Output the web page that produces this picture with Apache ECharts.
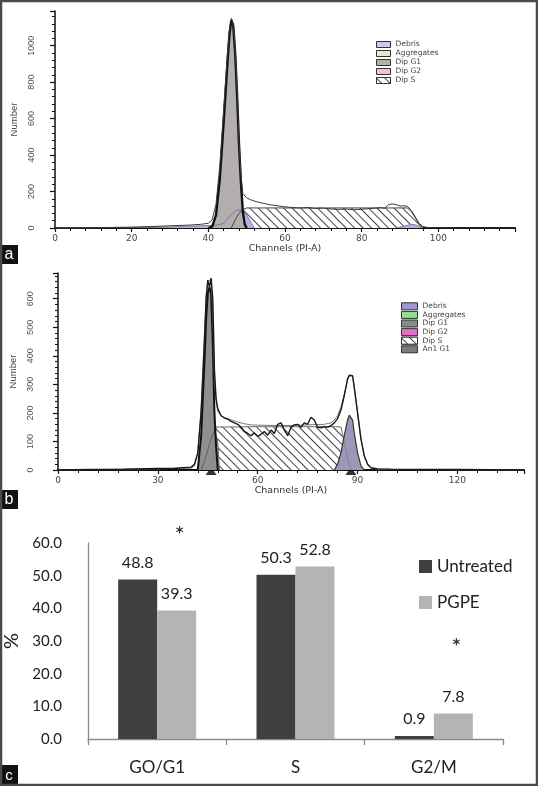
<!DOCTYPE html>
<html><head><meta charset="utf-8">
<script src="https://cdn.jsdelivr.net/npm/echarts@6/dist/echarts.min.js"></script>
<style>html,body{margin:0;padding:0;background:#fff}#c{width:538px;height:786px}</style>
</head><body><div id="c"></div>
<script>
// ---------- Panel a (channel, count) ----------
const rawA = [[0,0],[5,1],[10,2],[15,3],[20,5],[25,8],[30,12],[35,16],[38,20],[40,26],[41,45],[42,130],[43,340],[44,650],[45,960],[45.5,1090],[46,1150],[46.5,1120],[47,990],[47.5,760],[48,480],[48.5,290],[49,190],[50,165],[51,155],[52,148],[53,142],[54,137],[55,132],[56,128],[58,122],[60,116],[62,112],[64,110],[66,112],[68,107],[70,109],[72,104],[74,102],[76,104],[78,100],[80,103],[82,106],[84,110],[85,112],[86,108],[87,128],[88,132],[89,128],[90,120],[91,122],[92,118],[93,95],[94,60],[95,25],[96,8],[97,3],[100,1],[105,0],[120,0]];
const g1A = [[40,0],[41,8],[42,70],[43,270],[44,580],[45,910],[45.5,1060],[46,1140],[46.5,1110],[47,960],[47.5,730],[48,460],[48.5,250],[49,90],[49.5,20],[50,0]];
const sA = [[46,0],[47,45],[48,80],[49,100],[50,110],[60,110],[70,110],[80,110],[90,110],[92,110],[93,88],[94,55],[95,20],[96,0]];
const debA = [[0,0],[20,2],[30,6],[38,12],[42,15],[44,25],[45,50],[46,75],[47,92],[48,100],[49,95],[50,72],[51,35],[52,0]];
const g2A = [[89,0],[91,10],[93,20],[94,18],[95,8],[96,0]];
const peaksA = [[46,0]];

// ---------- Panel b (channel, count) ----------
const rawB = [[0,0],[10,2],[20,3],[30,5],[35,6],[40,10],[41,20],[42,60],[43,200],[44,450],[44.5,600],[45,665],[45.5,640],[46,672],[46.5,600],[47,350],[47.5,250],[48,215],[49,190],[50,182],[51,178],[52,170],[53,165],[54,160],[55,150],[56,135],[57,128],[58,120],[59,130],[60,118],[61,125],[62,135],[63,122],[64,140],[65,128],[66,160],[67,165],[68,140],[69,120],[70,150],[71,158],[72,160],[73,150],[74,165],[75,160],[76,185],[77,175],[78,150],[79,148],[80,152],[81,150],[82,155],[83,165],[84,180],[85,210],[86,260],[87,320],[87.5,332],[88,325],[88.5,330],[89,290],[90,200],[91,110],[92,50],[93,20],[94,8],[96,4],[100,3],[110,2],[120,2],[130,1],[140,0]];
const fitB = [[0,0],[40,6],[41,15],[42,60],[43,220],[44,480],[44.5,610],[45,660],[45.5,655],[46,668],[46.5,560],[47,330],[47.5,240],[48,205],[49,190],[50,184],[52,176],[54,168],[56,162],[58,158],[60,157],[65,156],[70,156],[75,158],[80,160],[82,165],[83,175],[84,190],[85,220],[86,265],[87,315],[87.5,330],[88,326],[88.5,330],[89,290],[90,200],[91,110],[92,50],[93,20],[94,8],[96,3],[100,2],[140,0]];
const g1B = [[42,0],[43,120],[44,380],[44.5,530],[45,620],[45.5,640],[46,620],[46.5,450],[47,200],[47.5,80],[48,0]];
const sB = [[46,0],[47,100],[47.5,150],[48,152],[60,152],[70,152],[80,152],[84,152],[85,150],[86,100],[87,40],[88,0]];
const debB = [[43,0],[44,30],[45,70],[46,110],[47,140],[47.5,145],[48,100],[48.5,0]];
const g2B = [[83,0],[84,20],[85,60],[86,120],[87,175],[87.5,192],[88,190],[88.5,175],[89,130],[90,60],[91,15],[92,0]];
const peaksB = [[46,0],[88,0]];

// ---------- Panel c ----------
const phases = ['GO/G1','S','G2/M'];
const untreated = [48.8, 50.3, 0.9];
const pgpe = [39.3, 52.8, 7.8];
const legendA = ['Debris','Aggregates','Dip G1','Dip G2','Dip S'];
const legendB = ['Debris','Aggregates','Dip G1','Dip G2','Dip S','An1 G1'];

const hatch = {symbol:'rect', symbolSize:1, dashArrayX:[1,0], dashArrayY:[1,5], rotation:Math.PI/4, color:'#444', backgroundColor:'#fff'};
const HF = 'DejaVu Sans';
const CF = 'Lato';

function histX(grid, max, interval, gap){
  return {type:'value', gridIndex:grid, min:0, max:max, interval:interval,
    axisLine:{lineStyle:{color:'#111', width:2}},
    axisTick:{show:true, length:4, lineStyle:{color:'#111', width:1.2}},
    minorTick:{show:true, splitNumber:5, length:3, lineStyle:{color:'#111', width:1}},
    splitLine:{show:false},
    axisLabel:{fontSize:9, color:'#444', fontFamily:HF, margin:6, showMaxLabel:false},
    name:'Channels (PI-A)', nameLocation:'middle', nameGap:gap,
    nameTextStyle:{fontSize:9.5, color:'#333', fontFamily:HF}};
}
function histY(grid, max, interval, margin, gap){
  return {type:'value', gridIndex:grid, min:0, max:max, interval:interval,
    axisLine:{show:true, lineStyle:{color:'#111', width:1.5}},
    axisTick:{show:true, length:5, lineStyle:{color:'#111', width:1.2}},
    minorTick:{show:true, splitNumber:5, length:3, lineStyle:{color:'#111', width:1}},
    splitLine:{show:false},
    axisLabel:{rotate:90, fontSize:9, color:'#555', fontFamily:'Liberation Sans', margin:margin, showMaxLabel:false, formatter:v=>String(v)},
    name:'Number', nameLocation:'middle', nameRotate:90, nameGap:gap,
    nameTextStyle:{fontSize:9.5, color:'#444', fontFamily:'Liberation Sans'}};
}
function area(name, data, xi, fill, line, lw, extra){
  return Object.assign({type:'line', name:name, xAxisIndex:xi, yAxisIndex:xi, data:data,
    showSymbol:false, symbol:'none', smooth:false, silent:true,
    lineStyle:{color:line, width:lw}, itemStyle:{color:fill},
    areaStyle:{color:fill, opacity:1}}, extra||{});
}
function lineS(name, data, xi, color, lw){
  return {type:'line', name:name, xAxisIndex:xi, yAxisIndex:xi, data:data, showSymbol:false, symbol:'none',
    silent:true, lineStyle:{color:color, width:lw}, itemStyle:{color:color}};
}
function legendItems(names, colors){
  return names.map((n,i)=>({name:n, itemStyle:Object.assign({borderColor:'#333', borderWidth:1}, colors[i])}));
}

const chart = echarts.init(document.getElementById('c'), null, {renderer:'canvas'});
chart.setOption({
  animation:false,
  backgroundColor:'#fff',
  grid:[
    {left:55, right:23, top:11, bottom:558, containLabel:false, outerBoundsMode:'none'},
    {left:58, right:14, top:273, bottom:316, containLabel:false, outerBoundsMode:'none'},
    {left:88, right:35, top:543, bottom:47, containLabel:false, outerBoundsMode:'none'}
  ],
  xAxis:[
    histX(0, 120, 20, 16),
    histX(1, 140, 30, 13),
    {type:'category', gridIndex:2, data:phases,
     axisLine:{lineStyle:{color:'#8a8a8a', width:1.3}},
     axisTick:{show:true, length:6, alignWithLabel:false, lineStyle:{color:'#8a8a8a', width:1.3}},
     axisLabel:{fontSize:17, color:'#222', fontFamily:CF, margin:20}}
  ],
  yAxis:[
    histY(0, 1190, 200, 19, 32),
    histY(1, 690, 100, 23, 37),
    {type:'value', gridIndex:2, min:0, max:60, interval:10,
     axisLine:{show:true, lineStyle:{color:'#8a8a8a', width:1.3}},
     axisTick:{show:false}, splitLine:{show:false},
     axisLabel:{fontSize:15, color:'#222', fontFamily:CF, margin:26, formatter:v=>v.toFixed(1)},
     name:'%', nameLocation:'middle', nameRotate:90, nameGap:57,
     nameTextStyle:{fontSize:20, color:'#222', fontFamily:CF}}
  ],
  legend:[
    {selectedMode:false, orient:'vertical', left:371, top:35, icon:'rect', itemWidth:14, itemHeight:6, itemGap:0,
     textStyle:{fontSize:7.5, color:'#444', fontFamily:HF, lineHeight:9},
     data:legendItems(legendA, [{color:'#cfc8ec'},{color:'#d6f2c8'},{color:'#b3afaf'},{color:'#f2bde8'},{color:'#fff', decal:hatch}])},
    {selectedMode:false, orient:'vertical', left:396, top:297, icon:'rect', itemWidth:16, itemHeight:7, itemGap:0,
     textStyle:{fontSize:7.5, color:'#444', fontFamily:HF, lineHeight:8.6},
     data:legendItems(legendB, [{color:'#9e97d4'},{color:'#8fe08f'},{color:'#8a8a8a'},{color:'#e36fcb'},{color:'#fff', decal:hatch},{color:'#7c7c7c'}])},
    {selectedMode:false, orient:'vertical', left:414, top:553, icon:'rect', itemWidth:13, itemHeight:13, itemGap:19,
     textStyle:{fontSize:17, color:'#222', fontFamily:CF},
     data:['Untreated','PGPE']}
  ],
  series:[
    // panel a
    area('Dip S', sA, 0, '#fff', '#444', 1, {itemStyle:{color:'#fff', decal:hatch}}),
    area('Debris', debA, 0, '#b9b1e0', '#6c66a0', 0.8),
    area('Dip G2', g2A, 0, '#c9a8dc', '#6c66a0', 0.8),
    area('Dip G1', g1A, 0, '#b3afaf', '#111', 2.4),
    lineS('raw a', rawA, 0, '#3a3a3a', 1),
    {type:'line', name:'Aggregates', xAxisIndex:0, yAxisIndex:0, data:[], itemStyle:{color:'#d6f2c8'}},
    {type:'scatter', name:'peak a', xAxisIndex:0, yAxisIndex:0, data:peaksA, symbol:'triangle', symbolSize:[11,8], symbolOffset:[0,-6], itemStyle:{color:'#000'}, silent:true},
    // panel b
    area('Dip S', sB, 1, '#fff', '#8a8a8a', 1.2, {itemStyle:{color:'#fff', decal:hatch}}),
    area('Debris', debB, 1, '#9e97d4', '#555', 0.8),
    area('Dip G1', g1B, 1, '#8f8f8f', '#111', 2),
    area('Dip G2', g2B, 1, '#9d98ba', '#333', 1.2),
    lineS('fit b', fitB, 1, '#777', 1),
    lineS('raw b', rawB, 1, '#1a1a1a', 1.4),
    {type:'line', name:'An1 G1', xAxisIndex:1, yAxisIndex:1, data:[], itemStyle:{color:'#7c7c7c'}},
    {type:'scatter', name:'peak b', xAxisIndex:1, yAxisIndex:1, data:peaksB, symbol:'triangle', symbolSize:[11,8], symbolOffset:[0,1], itemStyle:{color:'#000'}, silent:true},
    // panel c
    {type:'bar', name:'Untreated', xAxisIndex:2, yAxisIndex:2, data:untreated, barWidth:39, barGap:'0%',
     itemStyle:{color:'#3f3f3f'},
     label:{show:true, position:'top', distance:9, fontSize:16, color:'#222', fontFamily:CF, formatter:p=>p.value.toFixed(1)}},
    {type:'bar', name:'PGPE', xAxisIndex:2, yAxisIndex:2, data:pgpe, barWidth:39, barGap:'0%',
     itemStyle:{color:'#b4b4b4'},
     label:{show:true, position:'top', distance:9, fontSize:16, color:'#222', fontFamily:CF, formatter:p=>p.value.toFixed(1)},
     markPoint:{symbol:'circle', symbolSize:1, itemStyle:{color:'rgba(0,0,0,0)'},
       label:{show:true, position:'inside', formatter:'*', fontSize:24, color:'#222', fontFamily:CF, offset:[3,0]},
       data:[{coord:['GO/G1', 60], label:{offset:[3,-8]}}, {coord:['G2/M', 28]}]}}
  ],
  graphic:[
    {type:'rect', shape:{x:1, y:1, width:536, height:784}, style:{fill:'none', stroke:'#4a4a4a', lineWidth:2.5}, z:100},
    {type:'group', left:0, top:245, z:101, children:[
      {type:'rect', shape:{x:0, y:0, width:18, height:19}, style:{fill:'#111'}},
      {type:'text', x:9, y:9.5, style:{text:'a', fill:'#fff', font:'16px "Liberation Sans"', align:'center', verticalAlign:'middle'}}]},
    {type:'group', left:0, top:490, z:101, children:[
      {type:'rect', shape:{x:0, y:0, width:18, height:19}, style:{fill:'#111'}},
      {type:'text', x:9, y:9.5, style:{text:'b', fill:'#fff', font:'16px "Liberation Sans"', align:'center', verticalAlign:'middle'}}]},
    {type:'group', left:0, top:765, z:101, children:[
      {type:'rect', shape:{x:0, y:0, width:18, height:21}, style:{fill:'#111'}},
      {type:'text', x:9, y:10.5, style:{text:'c', fill:'#fff', font:'15px "Liberation Sans"', align:'center', verticalAlign:'middle'}}]}
  ]
});
</script>
</body></html>
